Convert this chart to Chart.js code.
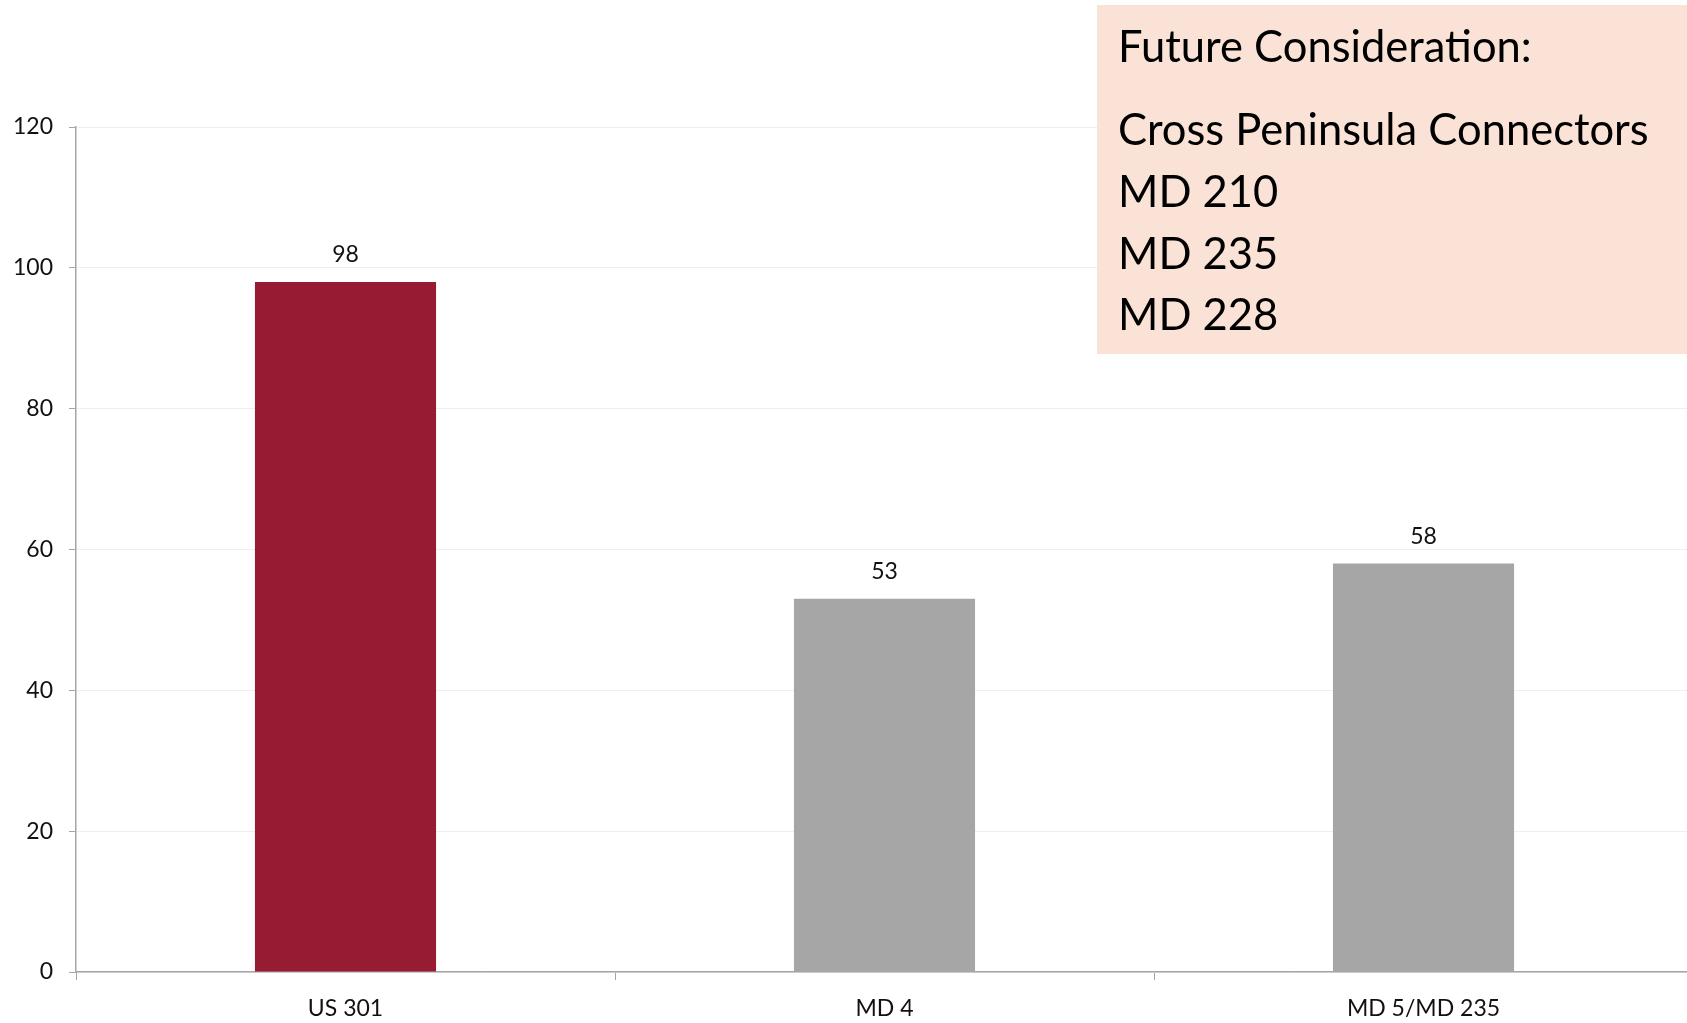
<!DOCTYPE html>
<html>
<head>
<meta charset="utf-8">
<title>Corridor chart</title>
<script src="https://cdn.jsdelivr.net/npm/chart.js@4/dist/chart.umd.min.js"></script>
<style>
  html, body { margin: 0; padding: 0; background: #ffffff; overflow: hidden; }
  #wrap { width: 1687px; height: 1023px; overflow: hidden; }
</style>
</head>
<body>
<div id="wrap"><canvas id="c" width="1693" height="1023"></canvas></div>
<script>
// Corridors and their values
const categories = ['US 301', 'MD 4', 'MD 5/MD 235'];
const values = [98, 53, 58];
const barColors = ['#961B33', '#A6A6A6', '#A6A6A6'];
const yTicks = [0, 20, 40, 60, 80, 100, 120];

// Note box text
const noteTitle = 'Future Consideration:';
const noteLines = ['Cross Peninsula Connectors', 'MD 210', 'MD 235', 'MD 228'];

const FONT = 'Lato, "Open Sans", sans-serif';

// Value labels above each bar
const valueLabels = {
  id: 'valueLabels',
  afterDatasetsDraw(chart) {
    const ctx = chart.ctx;
    const meta = chart.getDatasetMeta(0);
    ctx.save();
    ctx.font = '23px ' + FONT;
    ctx.fillStyle = '#111111';
    ctx.textAlign = 'center';
    ctx.textBaseline = 'middle';
    meta.data.forEach((bar, i) => {
      ctx.fillText(String(values[i]), bar.x, bar.y - 27);
    });
    ctx.restore();
  }
};

// Shaded note box in the upper right corner
const noteBox = {
  id: 'noteBox',
  afterDraw(chart) {
    const ctx = chart.ctx;
    ctx.save();
    ctx.fillStyle = '#FAE3D6';
    ctx.fillRect(1097, 5, 600, 349);
    ctx.fillStyle = '#000000';
    ctx.font = '43.5px ' + FONT;
    ctx.textAlign = 'left';
    ctx.textBaseline = 'middle';
    ctx.fillText(noteTitle, 1118, 48);
    const ys = [131, 193, 255, 316];
    noteLines.forEach((t, i) => ctx.fillText(t, 1118, ys[i]));
    ctx.restore();
  }
};

new Chart(document.getElementById('c'), {
  type: 'bar',
  data: {
    labels: categories,
    datasets: [{
      data: values,
      backgroundColor: barColors,
      borderWidth: 0,
      barPercentage: 0.336,
      categoryPercentage: 1.0
    }]
  },
  options: {
    responsive: false,
    animation: false,
    devicePixelRatio: 1,
    layout: { padding: { top: 127, right: 0, left: 0, bottom: 0 } },
    plugins: {
      legend: { display: false },
      tooltip: { enabled: false }
    },
    scales: {
      x: {
        grid: {
          offset: true,
          drawOnChartArea: false,
          drawTicks: true,
          tickLength: 8,
          tickColor: '#A6A6A6',
          lineWidth: 1
        },
        border: { color: '#A6A6A6', width: 1.5 },
        ticks: {
          color: '#111111',
          font: { family: FONT, size: 23 },
          padding: 15,
          maxRotation: 0
        },
        afterFit(scale) { scale.height = 51; }
      },
      y: {
        min: 0,
        max: 120,
        afterBuildTicks(scale) { scale.ticks = yTicks.map(v => ({ value: v })); },
        grid: {
          color: '#EFEFEF',
          lineWidth: 1,
          drawTicks: true,
          tickLength: 7,
          tickColor: '#A6A6A6'
        },
        border: { color: '#A6A6A6', width: 1.5 },
        ticks: {
          color: '#111111',
          font: { family: FONT, size: 23 },
          padding: 16
        },
        afterFit(scale) { scale.width = 76; }
      }
    }
  },
  plugins: [valueLabels, noteBox]
});
</script>
</body>
</html>
